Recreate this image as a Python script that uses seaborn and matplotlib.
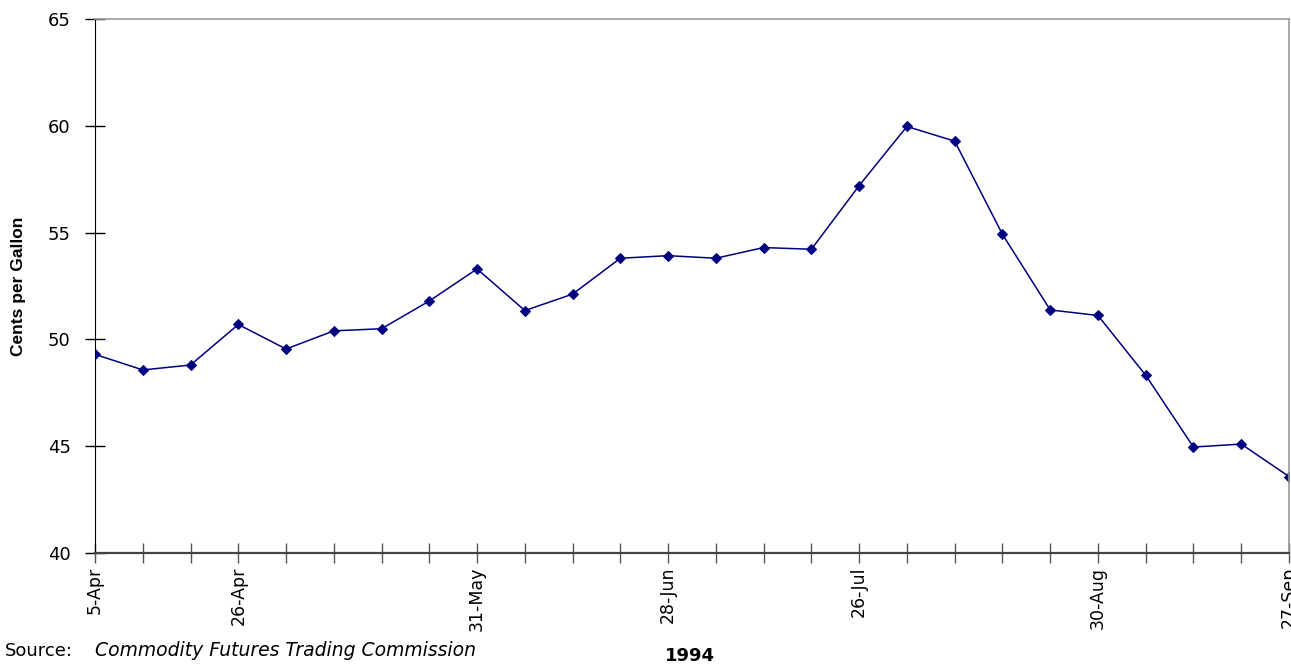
import matplotlib
matplotlib.use("Agg")
import matplotlib.pyplot as plt
import numpy as np
import pandas as pd
import seaborn as sns

# weekly dates, 1994
weeks = ["5-Apr", "12-Apr", "19-Apr", "26-Apr", "3-May", "10-May", "17-May",
         "24-May", "31-May", "7-Jun", "14-Jun", "21-Jun", "28-Jun", "5-Jul",
         "12-Jul", "19-Jul", "26-Jul", "2-Aug", "9-Aug", "16-Aug", "23-Aug",
         "30-Aug", "6-Sep", "13-Sep", "20-Sep", "27-Sep"]
cents = [49.3, 48.57, 48.8, 50.7, 49.55, 50.4, 50.5, 51.8, 53.3, 51.35,
         52.12, 53.8, 53.92, 53.8, 54.3, 54.22, 57.2, 59.97, 59.28, 54.92,
         51.38, 51.12, 48.32, 44.96, 45.1, 43.58]
labeled_weeks = ["5-Apr", "26-Apr", "31-May", "28-Jun", "26-Jul", "30-Aug", "27-Sep"]
y_ticks = [40, 45, 50, 55, 60, 65]

df = pd.DataFrame({"idx": np.arange(len(weeks)), "week": weeks, "cents": cents})

sns.set_style("white", {"text.color": "black", "xtick.color": "black",
                        "ytick.color": "black", "axes.labelcolor": "black"})
plt.rcParams["font.family"] = ["DejaVu Sans"]

fig = plt.figure(figsize=(12.91, 6.65), dpi=100)
ax = fig.add_axes([95 / 1291, 1 - 553 / 665, (1289 - 95) / 1291, (553 - 19) / 665])

sns.lineplot(data=df, x="idx", y="cents", ax=ax, color="#000080", lw=1.1,
             marker="D", markersize=5, markeredgecolor="#000080")

ax.set_xlim(0, len(weeks) - 1)
ax.set_ylim(40, 65)
ax.set_yticks(y_ticks)
ax.set_yticklabels([str(v) for v in y_ticks], fontsize=13)
ax.set_xticks(df["idx"])
ax.set_xticklabels([w if w in labeled_weeks else "" for w in weeks],
                   rotation=90, fontsize=12.5)
ax.tick_params(axis="x", bottom=True, direction="inout", length=14, width=1,
               color="#555555", labelcolor="black", pad=3)
ax.tick_params(axis="y", left=True, direction="inout", length=15, width=1,
               color="black", labelcolor="black", pad=10)

for side in ["top", "right"]:
    ax.spines[side].set_color("#999999")
    ax.spines[side].set_linewidth(1.2)
ax.spines["left"].set_color("black")
ax.spines["bottom"].set_color("#444444")
ax.spines["bottom"].set_linewidth(1.6)

ax.set_xlabel("")
ax.set_ylabel("Cents per Gallon", fontsize=12.5, fontweight="bold",
              family="Liberation Sans", color="black")
ax.yaxis.set_label_coords((26 - 95) / 1194, 0.5)

fig.text(5 / 1291, 1 - 656 / 665, "Source:", fontsize=13, va="baseline", color="black")
fig.text(95 / 1291, 1 - 656 / 665, "Commodity Futures Trading Commission",
         fontsize=13.5, style="italic", va="baseline", color="black")
fig.text(690 / 1291, 1 - 661 / 665, "1994", fontsize=13, fontweight="bold",
         ha="center", va="baseline", color="black")

plt.savefig("out.png", dpi=100)
plt.close()
